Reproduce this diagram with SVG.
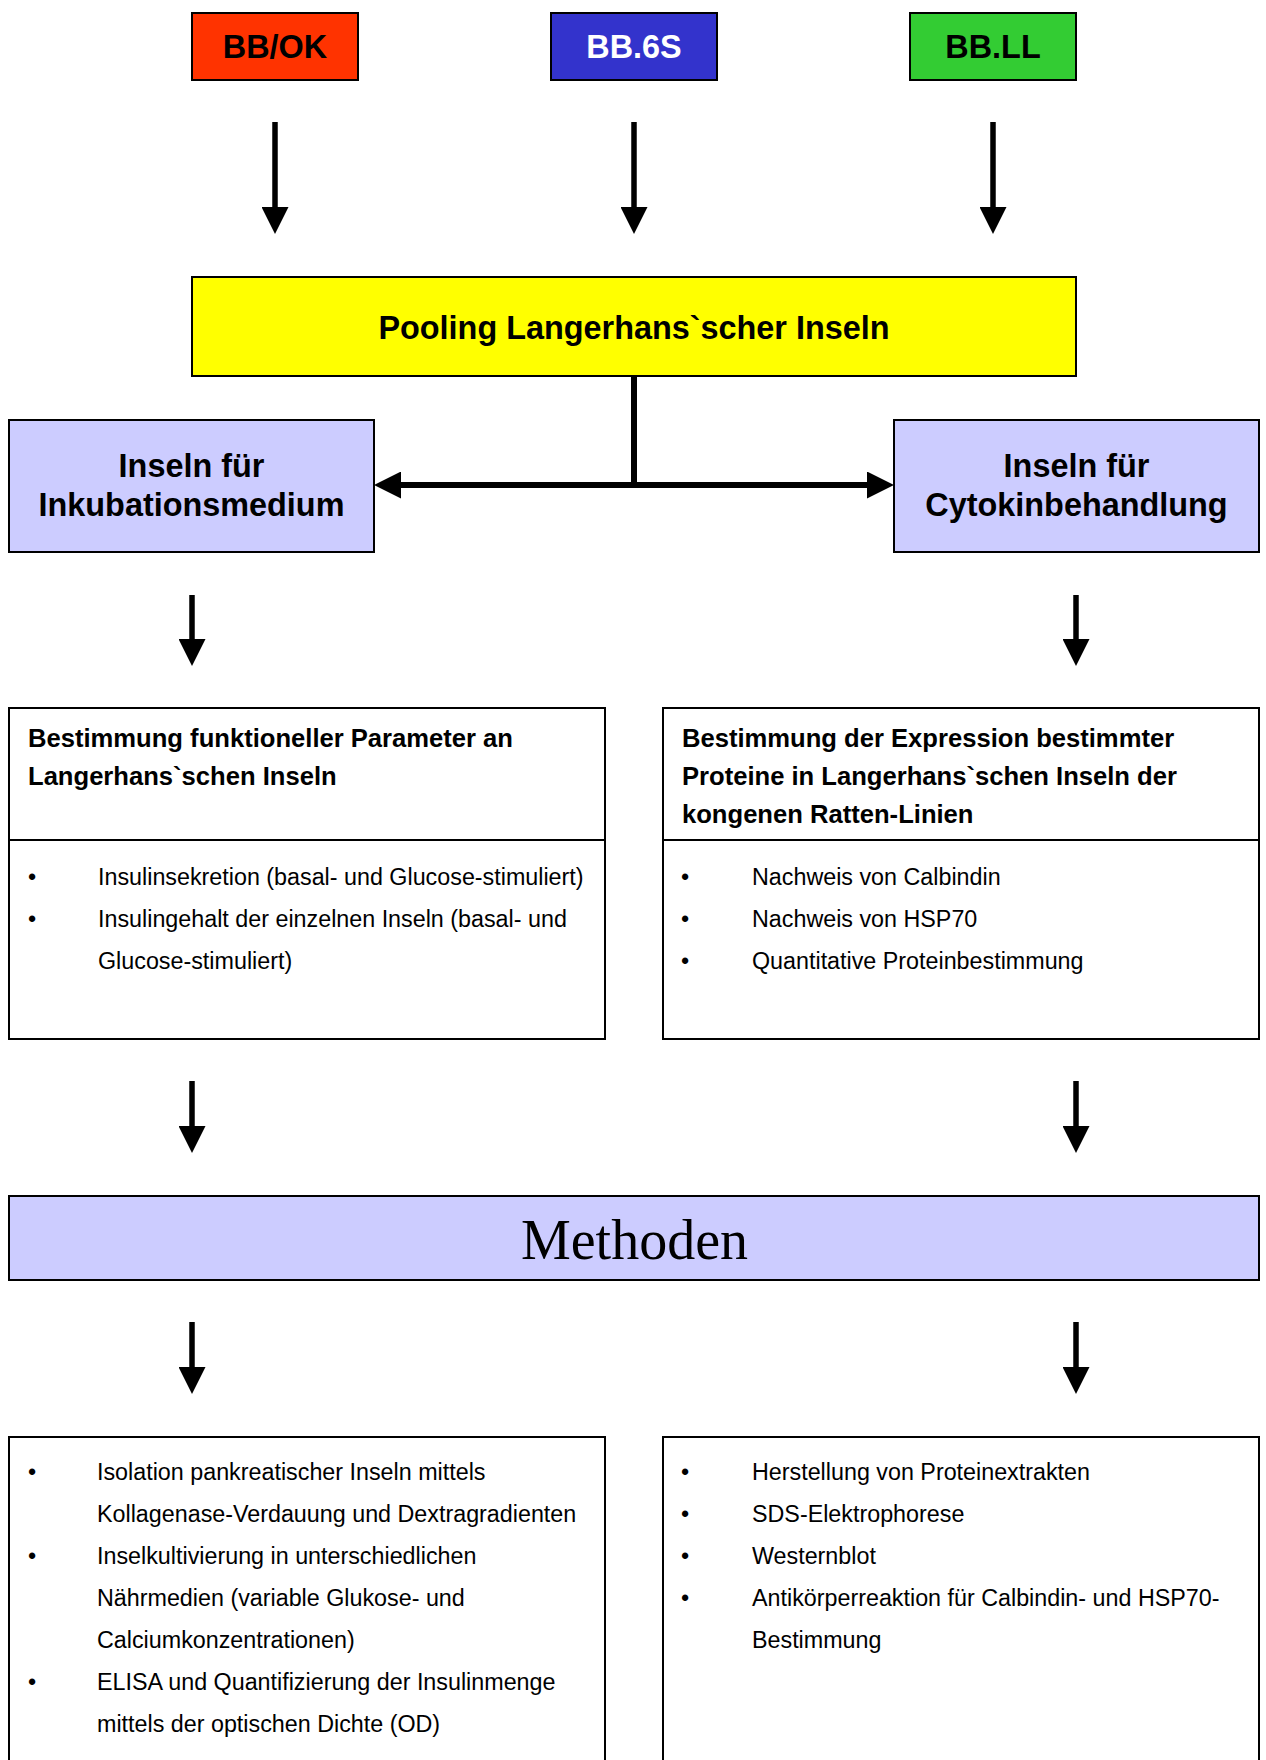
<svg xmlns="http://www.w3.org/2000/svg" width="1266" height="1760" viewBox="0 0 1266 1760">
<defs>
<style>
.box{stroke:#000;stroke-width:2}
.big{font-family:"Liberation Sans",Arial,sans-serif;font-weight:bold;font-size:32.4px;text-anchor:middle}
.ttl{font-family:"Liberation Sans",Arial,sans-serif;font-weight:bold;font-size:25.6px}
.txt{font-family:"Liberation Sans",Arial,sans-serif;font-size:23.3px}
.con{stroke:#000;fill:none}
</style>
<marker id="ah" markerUnits="userSpaceOnUse" markerWidth="27" markerHeight="27" refX="0" refY="13.5" orient="auto" viewBox="0 0 27 27">
<path d="M0,0 L27,13.5 L0,27 z" fill="#000"/>
</marker>
</defs>
<rect width="1266" height="1760" fill="#fff"/>

<g id="bbok">
<rect class="box" x="192" y="13" width="166" height="67" fill="#FF3300"/>
<text class="big" x="275" y="58" fill="#000">BB/OK</text>
</g>
<g id="bb6s">
<rect class="box" x="551" y="13" width="166" height="67" fill="#3333CC"/>
<text class="big" x="634" y="58" fill="#fff">BB.6S</text>
</g>
<g id="bbll">
<rect class="box" x="910" y="13" width="166" height="67" fill="#33CC33"/>
<text class="big" x="993" y="58" fill="#000">BB.LL</text>
</g>

<g id="pooling">
<rect class="box" x="192" y="277" width="884" height="99" fill="#FFFF00"/>
<text class="big" x="634" y="339">Pooling Langerhans`scher Inseln</text>
</g>

<g id="inseln-inkubation">
<rect class="box" x="9" y="420" width="365" height="132" fill="#CCCCFF"/>
<text class="big" x="191.5" y="477">Inseln für</text>
<text class="big" x="191.5" y="516">Inkubationsmedium</text>
</g>
<g id="inseln-cytokin">
<rect class="box" x="894" y="420" width="365" height="132" fill="#CCCCFF"/>
<text class="big" x="1076.5" y="477">Inseln für</text>
<text class="big" x="1076.5" y="516">Cytokinbehandlung</text>
</g>

<g id="funktionelle-parameter">
<rect class="box" x="9" y="708" width="596" height="331" fill="#fff"/>
<line class="box" x1="9" y1="840" x2="605" y2="840"/>
<text class="ttl" x="28" y="747">Bestimmung funktioneller Parameter an</text>
<text class="ttl" x="28" y="785">Langerhans`schen Inseln</text>
<text class="txt" x="28" y="885">•</text>
<text class="txt" x="98" y="885">Insulinsekretion (basal- und Glucose-stimuliert)</text>
<text class="txt" x="28" y="927">•</text>
<text class="txt" x="98" y="927">Insulingehalt der einzelnen Inseln (basal- und</text>
<text class="txt" x="98" y="969">Glucose-stimuliert)</text>
</g>

<g id="proteinexpression">
<rect class="box" x="663" y="708" width="596" height="331" fill="#fff"/>
<line class="box" x1="663" y1="840" x2="1259" y2="840"/>
<text class="ttl" x="682" y="747">Bestimmung der Expression bestimmter</text>
<text class="ttl" x="682" y="785">Proteine in Langerhans`schen Inseln der</text>
<text class="ttl" x="682" y="823">kongenen Ratten-Linien</text>
<text class="txt" x="681" y="885">•</text>
<text class="txt" x="752" y="885">Nachweis von Calbindin</text>
<text class="txt" x="681" y="927">•</text>
<text class="txt" x="752" y="927">Nachweis von HSP70</text>
<text class="txt" x="681" y="969">•</text>
<text class="txt" x="752" y="969">Quantitative Proteinbestimmung</text>
</g>

<g id="methoden">
<rect class="box" x="9" y="1196" width="1250" height="84" fill="#CCCCFF"/>
<text x="634.5" y="1259" text-anchor="middle" font-family="'Liberation Serif','Times New Roman',serif" font-size="56px">Methoden</text>
</g>

<g id="methoden-links">
<rect class="box" x="9" y="1437" width="596" height="340" fill="#fff"/>
<text class="txt" x="28" y="1480">•</text>
<text class="txt" x="97" y="1480">Isolation pankreatischer Inseln mittels</text>
<text class="txt" x="97" y="1522">Kollagenase-Verdauung und Dextragradienten</text>
<text class="txt" x="28" y="1564">•</text>
<text class="txt" x="97" y="1564">Inselkultivierung in unterschiedlichen</text>
<text class="txt" x="97" y="1606">Nährmedien (variable Glukose- und</text>
<text class="txt" x="97" y="1648">Calciumkonzentrationen)</text>
<text class="txt" x="28" y="1690">•</text>
<text class="txt" x="97" y="1690">ELISA und Quantifizierung der Insulinmenge</text>
<text class="txt" x="97" y="1732">mittels der optischen Dichte (OD)</text>
</g>

<g id="methoden-rechts">
<rect class="box" x="663" y="1437" width="596" height="340" fill="#fff"/>
<text class="txt" x="681" y="1480">•</text>
<text class="txt" x="752" y="1480">Herstellung von Proteinextrakten</text>
<text class="txt" x="681" y="1522">•</text>
<text class="txt" x="752" y="1522">SDS-Elektrophorese</text>
<text class="txt" x="681" y="1564">•</text>
<text class="txt" x="752" y="1564">Westernblot</text>
<text class="txt" x="681" y="1606">•</text>
<text class="txt" x="752" y="1606">Antikörperreaktion für Calbindin- und HSP70-</text>
<text class="txt" x="752" y="1648">Bestimmung</text>
</g>

<g id="connectors">
<g class="con" stroke-width="5.5" marker-end="url(#ah)">
<line x1="275" y1="122" x2="275" y2="207"/>
<line x1="634" y1="122" x2="634" y2="207"/>
<line x1="993" y1="122" x2="993" y2="207"/>
<line x1="192" y1="595" x2="192" y2="639"/>
<line x1="1076" y1="595" x2="1076" y2="639"/>
<line x1="192" y1="1081" x2="192" y2="1126"/>
<line x1="1076" y1="1081" x2="1076" y2="1126"/>
<line x1="192" y1="1322" x2="192" y2="1367"/>
<line x1="1076" y1="1322" x2="1076" y2="1367"/>
</g>
<g class="con" stroke-width="6">
<line x1="634" y1="376" x2="634" y2="488"/>
<line x1="634" y1="485" x2="401" y2="485" marker-end="url(#ah)"/>
<line x1="634" y1="485" x2="867" y2="485" marker-end="url(#ah)"/>
</g>
</g>
</svg>
